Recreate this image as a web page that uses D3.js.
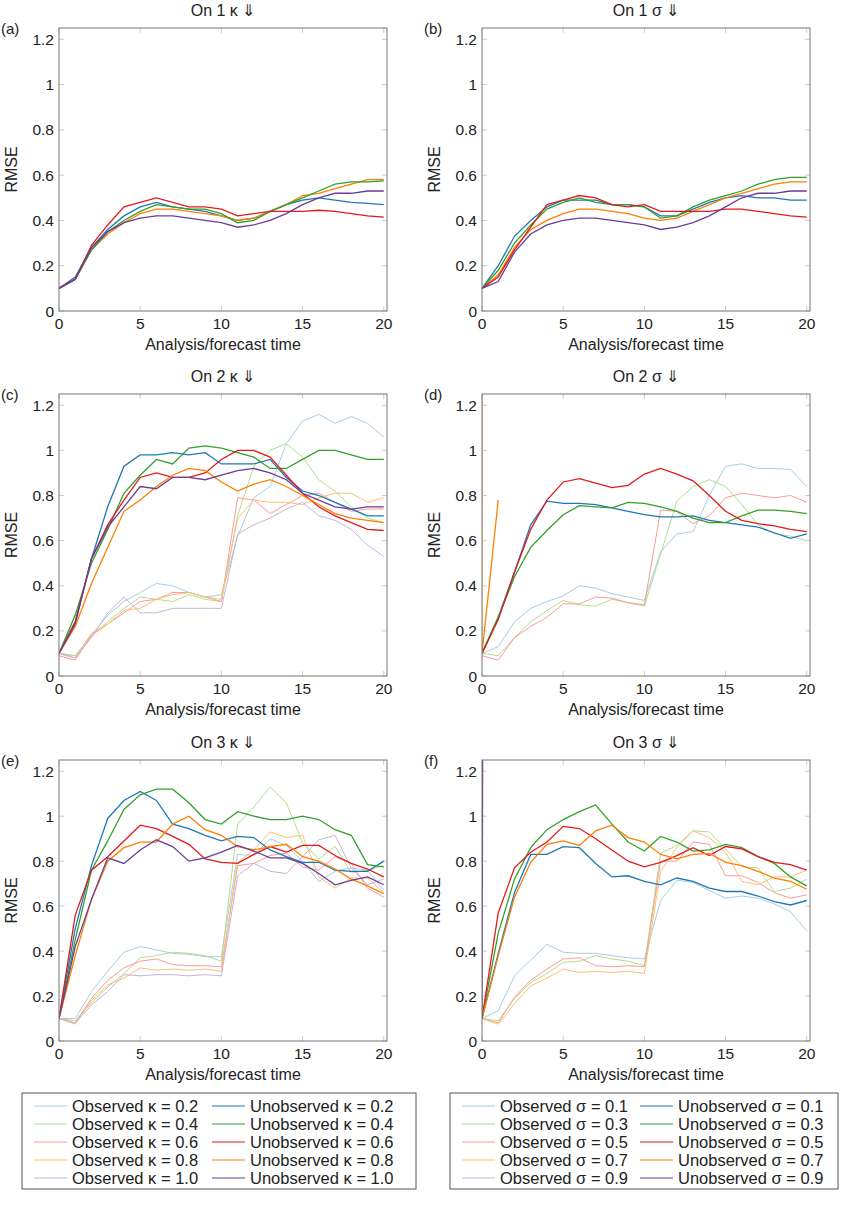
<!DOCTYPE html>
<html><head><meta charset="utf-8">
<script src="https://cdn.jsdelivr.net/npm/d3@7"></script>
<style>body{margin:0;background:#fff}text{font-family:"Liberation Sans",Arial,sans-serif;fill:#222}</style>
</head><body><svg id="c" width="843" height="1217"></svg>
<script>
const colors = {lb:"#a6cee3",b:"#1f78b4",lg:"#b2df8a",g:"#33a02c",pk:"#fb9a99",r:"#e31a1c",lo:"#fdbf6f",o:"#ff7f00",lp:"#cab2d6",p:"#6a3d9a"};
const titles = ["On 1 κ ⇓","On 1 σ ⇓","On 2 κ ⇓","On 2 σ ⇓","On 3 κ ⇓","On 3 σ ⇓"];
const labels = ["(a)","(b)","(c)","(d)","(e)","(f)"];
const yTicks = [0,0.2,0.4,0.6,0.8,1,1.2];
const xTicks = [0,5,10,15,20];

const panelA = {
 b:[.1,.15,.28,.36,.42,.46,.48,.46,.45,.44,.42,.40,.41,.44,.47,.49,.50,.49,.48,.475,.47],
 o:[.1,.14,.27,.34,.39,.43,.45,.45,.44,.43,.42,.40,.41,.44,.47,.51,.52,.54,.56,.58,.58],
 g:[.1,.14,.27,.35,.40,.44,.47,.46,.45,.45,.43,.39,.40,.44,.47,.50,.53,.56,.57,.57,.575],
 r:[.1,.14,.29,.38,.46,.48,.50,.48,.46,.46,.45,.42,.43,.44,.44,.44,.445,.44,.43,.42,.415],
 p:[.1,.14,.28,.35,.39,.41,.42,.42,.41,.40,.39,.37,.38,.40,.43,.47,.50,.52,.52,.53,.53]};
const panelB = {
 b:[.1,.2,.33,.40,.46,.49,.49,.49,.47,.47,.46,.42,.42,.45,.48,.50,.51,.50,.50,.49,.49],
 o:[.1,.16,.28,.36,.40,.43,.45,.45,.44,.43,.41,.40,.41,.44,.47,.50,.52,.54,.56,.57,.57],
 g:[.1,.18,.30,.38,.45,.48,.50,.48,.47,.47,.46,.41,.42,.46,.49,.51,.53,.56,.58,.59,.59],
 r:[.1,.15,.27,.37,.47,.49,.51,.50,.47,.46,.47,.44,.44,.44,.44,.45,.45,.44,.43,.42,.415],
 p:[.1,.13,.26,.34,.38,.40,.41,.41,.40,.39,.38,.36,.37,.39,.42,.46,.50,.52,.52,.53,.53]};
const panelC = {
 lb:[.1,.09,.18,.27,.33,.37,.41,.40,.37,.35,.36,.62,.79,.84,1.03,1.13,1.16,1.12,1.15,1.12,1.06],
 lg:[.1,.09,.18,.24,.30,.35,.34,.33,.36,.34,.33,.71,.93,1.0,1.03,.97,.87,.82,.75,.70,.68],
 pk:[.09,.07,.18,.23,.28,.33,.34,.37,.37,.35,.33,.79,.78,.72,.76,.80,.81,.77,.73,.74,.74],
 lo:[.1,.08,.19,.23,.29,.30,.34,.36,.37,.35,.34,.70,.78,.77,.77,.76,.79,.81,.81,.77,.79],
 lp:[.1,.08,.17,.28,.35,.28,.28,.30,.30,.30,.30,.63,.67,.70,.74,.77,.71,.69,.65,.58,.53],
 b:[.1,.24,.52,.75,.93,.98,.98,.99,.98,.99,.94,.94,.94,.96,.88,.82,.80,.77,.74,.71,.71],
 g:[.1,.27,.5,.65,.81,.89,.96,.94,1.01,1.02,1.01,.99,.97,.92,.92,.96,1.0,1.0,.98,.96,.96],
 r:[.1,.24,.52,.67,.78,.88,.90,.88,.88,.90,.96,1.0,1.0,.97,.89,.81,.75,.71,.68,.65,.645],
 o:[.1,.22,.41,.57,.73,.78,.84,.89,.92,.91,.86,.82,.85,.87,.84,.80,.76,.72,.70,.69,.68],
 p:[.1,.23,.52,.66,.75,.84,.83,.88,.88,.87,.89,.91,.92,.90,.87,.81,.78,.75,.74,.75,.75]};
const panelD = {
 lb:[.1,.13,.24,.30,.33,.355,.40,.39,.365,.35,.335,.55,.63,.64,.80,.93,.94,.92,.92,.915,.84],
 lg:[.1,.09,.17,.24,.29,.335,.315,.31,.34,.325,.31,.54,.775,.84,.87,.84,.76,.67,.63,.62,.60],
 pk:[.09,.07,.17,.22,.26,.32,.32,.35,.345,.325,.315,.735,.73,.675,.71,.79,.81,.80,.79,.80,.77],
 lo:[.1,30],
 b:[.1,.26,.46,.67,.775,.765,.765,.76,.745,.73,.715,.705,.705,.71,.69,.68,.67,.66,.635,.61,.63],
 g:[.1,.26,.44,.57,.645,.715,.755,.75,.745,.77,.765,.75,.73,.70,.68,.68,.71,.735,.735,.73,.72],
 r:[.1,.25,.46,.65,.78,.86,.875,.855,.835,.845,.895,.92,.895,.865,.80,.73,.69,.675,.665,.65,.64],
 o:[.1,.78]};
const panelE = {
 lb:[.1,.1,.22,.31,.395,.42,.405,.39,.385,.375,.375,.83,.825,.90,.87,.80,.71,.755,.77,.76,.67],
 lg:[.1,.09,.17,.24,.30,.37,.38,.395,.39,.38,.355,.965,1.04,1.13,1.06,.88,.81,.865,.75,.76,.78],
 pk:[.1,.08,.19,.27,.325,.355,.365,.34,.335,.335,.33,.78,.79,.825,.835,.775,.76,.82,.79,.68,.64],
 lo:[.1,.075,.18,.25,.28,.325,.315,.32,.315,.32,.31,.795,.85,.93,.905,.915,.73,.68,.725,.725,.66],
 lp:[.1,.08,.16,.22,.295,.29,.295,.295,.29,.295,.29,.735,.79,.755,.745,.82,.895,.915,.77,.695,.72],
 b:[.1,.5,.78,.99,1.07,1.11,1.07,.965,.945,.915,.89,.91,.905,.85,.82,.795,.795,.76,.755,.755,.80],
 g:[.1,.45,.76,.89,1.03,1.095,1.12,1.12,1.06,.985,.965,1.02,1.0,.985,.985,1.0,.985,.94,.915,.785,.775],
 r:[.1,.56,.76,.82,.89,.96,.945,.91,.875,.81,.795,.79,.83,.865,.84,.87,.87,.825,.79,.765,.73],
 o:[.1,.38,.63,.80,.86,.885,.885,.965,1.0,.94,.915,.865,.85,.865,.875,.82,.80,.765,.72,.69,.655],
 p:[.1,.42,.63,.815,.79,.85,.895,.865,.80,.815,.84,.87,.845,.815,.815,.79,.745,.695,.715,.73,.695]};
const panelF = {
 lb:[.1,.135,.29,.36,.43,.395,.39,.39,.38,.37,.365,.625,.715,.705,.67,.635,.645,.635,.61,.575,.49],
 lg:[.1,.09,.19,.26,.30,.35,.355,.38,.365,.355,.335,.835,.87,.935,.93,.855,.775,.77,.665,.68,.72],
 pk:[.1,.08,.195,.27,.32,.365,.37,.335,.33,.335,.33,.80,.80,.885,.875,.735,.735,.705,.66,.635,.65],
 lo:[.1,.075,.165,.245,.28,.32,.305,.31,.305,.31,.3,.755,.86,.935,.905,.84,.71,.695,.73,.73,.76],
 b:[.1,.39,.66,.83,.83,.865,.86,.79,.73,.735,.71,.695,.725,.71,.68,.665,.665,.645,.62,.605,.625],
 g:[.1,.48,.72,.86,.94,.985,1.02,1.05,.965,.885,.845,.91,.885,.845,.85,.875,.86,.82,.79,.73,.69],
 r:[.1,.57,.77,.84,.885,.955,.945,.9,.85,.8,.775,.795,.825,.86,.825,.865,.855,.82,.795,.785,.76],
 o:[.1,.38,.64,.795,.875,.89,.87,.935,.96,.905,.885,.83,.81,.83,.835,.795,.78,.755,.725,.71,.675],
 p:[.1,30]};
const panels=[panelA,panelB,panelC,panelD,panelE,panelF];

const legK=[["Observed κ = 0.2","lb"],["Unobserved κ = 0.2","b"],["Observed κ = 0.4","lg"],["Unobserved κ = 0.4","g"],["Observed κ = 0.6","pk"],["Unobserved κ = 0.6","r"],["Observed κ = 0.8","lo"],["Unobserved κ = 0.8","o"],["Observed κ = 1.0","lp"],["Unobserved κ = 1.0","p"]];
const legS=[["Observed σ = 0.1","lb"],["Unobserved σ = 0.1","b"],["Observed σ = 0.3","lg"],["Unobserved σ = 0.3","g"],["Observed σ = 0.5","pk"],["Unobserved σ = 0.5","r"],["Observed σ = 0.7","lo"],["Unobserved σ = 0.7","o"],["Observed σ = 0.9","lp"],["Unobserved σ = 0.9","p"]];

const svg=d3.select("#c");
const cols=[{x0:59,x1:387},{x0:482,x1:810}];
const rows=[{y0:28,y1:311},{y0:394,y1:676},{y0:760,y1:1041}];
panels.forEach((data,i)=>{
  const c=cols[i%2], rw=rows[Math.floor(i/2)];
  const x=d3.scaleLinear().domain([0,20.2]).range([c.x0,c.x1]);
  const y=d3.scaleLinear().domain([0,1.25]).range([rw.y1,rw.y0]);
  const g=svg.append("g");
  const id="clip"+i;
  svg.append("clipPath").attr("id",id).append("rect").attr("x",c.x0).attr("y",rw.y0).attr("width",c.x1-c.x0).attr("height",rw.y1-rw.y0);
  const tg=g.append("g").attr("stroke","#ccc").attr("stroke-width",1);
  yTicks.forEach(t=>{tg.append("line").attr("x1",c.x0).attr("x2",c.x0+5).attr("y1",y(t)).attr("y2",y(t));tg.append("line").attr("x1",c.x1).attr("x2",c.x1-5).attr("y1",y(t)).attr("y2",y(t));});
  xTicks.forEach(t=>{tg.append("line").attr("x1",x(t)).attr("x2",x(t)).attr("y1",rw.y1).attr("y2",rw.y1-5);tg.append("line").attr("x1",x(t)).attr("x2",x(t)).attr("y1",rw.y0).attr("y2",rw.y0+5);});
  const line=d3.line().x((d,j)=>x(j)).y(d=>y(d));
  const lg=g.append("g").attr("clip-path",`url(#${id})`);
  Object.keys(data).forEach(k=>{
    const light=k.length>1;
    lg.append("path").attr("d",line(data[k])).attr("fill","none").attr("stroke",colors[k]).attr("stroke-width",light?1:1.3);
  });
  g.append("rect").attr("x",c.x0).attr("y",rw.y0).attr("width",c.x1-c.x0).attr("height",rw.y1-rw.y0).attr("fill","none").attr("stroke","#777");
  yTicks.forEach(t=>g.append("text").attr("x",c.x0-5).attr("y",y(t)+5.5).attr("text-anchor","end").attr("font-size",15.5).text(t));
  xTicks.forEach(t=>g.append("text").attr("x",x(t)).attr("y",rw.y1+18).attr("text-anchor","middle").attr("font-size",15.5).text(t));
  g.append("text").attr("x",(c.x0+c.x1)/2).attr("y",rw.y1+39).attr("text-anchor","middle").attr("font-size",16).text("Analysis/forecast time");
  g.append("text").attr("transform",`translate(${c.x0-42},${(rw.y0+rw.y1)/2}) rotate(-90)`).attr("text-anchor","middle").attr("font-size",16).text("RMSE");
  g.append("text").attr("x",(c.x0+c.x1)/2).attr("y",rw.y0-12).attr("text-anchor","middle").attr("font-size",16).text(titles[i]);
  g.append("text").attr("x",c.x0-58).attr("y",rw.y0+6).attr("font-size",15).text(labels[i]);
});
function legend(items,bx,bw,lx1,lx2){
  const by=1093,bh=96;
  svg.append("rect").attr("x",bx).attr("y",by).attr("width",bw).attr("height",bh).attr("fill","none").attr("stroke","#555");
  items.forEach((it,j)=>{
    const r=Math.floor(j/2), cx=j%2?lx2:lx1, yy=by+13+r*18;
    svg.append("line").attr("x1",cx).attr("x2",cx+33).attr("y1",yy).attr("y2",yy).attr("stroke",colors[it[1]]).attr("stroke-width",1.2);
    svg.append("text").attr("x",cx+38).attr("y",yy+5.5).attr("font-size",16.5).text(it[0]);
  });
}
legend(legK,22,394,34,212);
legend(legS,450,388,462,640);
</script></body></html>
